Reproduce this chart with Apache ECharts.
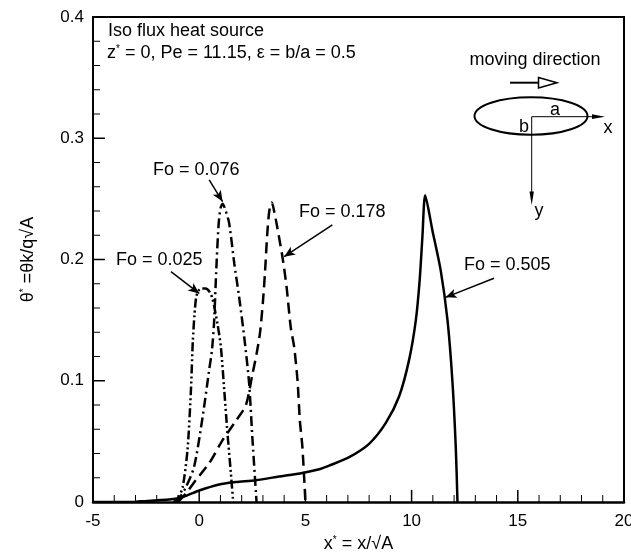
<!DOCTYPE html>
<html>
<head>
<meta charset="utf-8">
<script src="https://cdn.jsdelivr.net/npm/echarts@6/dist/echarts.min.js"></script>
<style>
html, body { margin: 0; padding: 0; background: #fff; }
#chart { width: 631px; height: 552px; }
</style>
</head>
<body>
<div id="chart"></div>
<script>
// curves: x* and theta*
var fo025X = [-1.2, -1.0, -0.78, -0.55, -0.39, -0.3, -0.22, -0.15, -0.05, 0.1, 0.3, 0.5, 0.62, 0.72, 0.86, 1.02, 1.18, 1.33, 1.49, 1.6];
var fo025Y = [0, 0.003, 0.012, 0.043, 0.092, 0.133, 0.155, 0.168, 0.174, 0.176, 0.176, 0.173, 0.168, 0.16, 0.147, 0.128, 0.092, 0.057, 0.024, 0];

var fo076X = [-1.1, -0.9, -0.63, -0.24, 0.16, 0.47, 0.6, 0.7, 0.8, 0.91, 1.0, 1.1, 1.25, 1.41, 1.65, 1.88, 2.12, 2.35, 2.51, 2.7];
var fo076Y = [0, 0.004, 0.012, 0.029, 0.07, 0.109, 0.125, 0.148, 0.19, 0.228, 0.242, 0.246, 0.24, 0.23, 0.197, 0.169, 0.136, 0.098, 0.051, 0];

var fo178X = [-1.0, -0.63, -0.16, 0.47, 1.1, 1.73, 2.2, 2.5, 2.7, 2.86, 3.0, 3.1, 3.2, 3.3, 3.42, 3.55, 3.64, 3.92, 4.11, 4.31, 4.47, 4.63, 4.74, 4.86, 5.0];
var fo178Y = [0, 0.007, 0.018, 0.032, 0.051, 0.067, 0.08, 0.105, 0.122, 0.139, 0.165, 0.19, 0.22, 0.24, 0.247, 0.238, 0.23, 0.202, 0.178, 0.144, 0.128, 0.1, 0.067, 0.045, 0];

var fo505X = [-5, -3.5, -3, -2.5, -2, -1.41, -0.78, 0, 0.94, 1.73, 2.67, 3.76, 4.86, 5.65, 6.12, 7.06, 8.0, 8.78, 9.41, 9.88, 10.2, 10.38, 10.51, 10.64, 10.98, 11.37, 11.69, 11.92, 12.08, 12.16];
var fo505Y = [0, 0, 0.0003, 0.0008, 0.0015, 0.002, 0.004, 0.0095, 0.0145, 0.0164, 0.018, 0.021, 0.024, 0.027, 0.03, 0.037, 0.048, 0.065, 0.087, 0.117, 0.15, 0.183, 0.219, 0.253, 0.224, 0.191, 0.15, 0.1, 0.045, 0];

// annotation arrows [from, to] in data units
var arrow025 = [[-1.33, 0.19], [0, 0.172]];
var arrow076 = [[0.47, 0.2657], [1.1, 0.2478]];
var arrow178 = [[6.27, 0.2285], [4.0, 0.2023]];
var arrow505 = [[13.88, 0.1845], [11.6, 0.1688]];

var xTicks = [-5, 0, 5, 10, 15, 20];
var yTicks = [0, 0.1, 0.2, 0.3, 0.4];
var xMinorStep = 1;
var yMinorStep = 0.02;

var FONT = '"Liberation Sans", Arial, sans-serif';

function pairs(xs, ys) {
    return xs.map(function (x, i) { return [x, ys[i]]; });
}

function arrowLine(a) {
    return {
        silent: true,
        symbol: ['none', 'arrow'],
        symbolSize: [7, 11],
        label: { show: false },
        lineStyle: { color: '#000', width: 1.5, type: 'solid' },
        data: [[{ coord: a[0] }, { coord: a[1] }]]
    };
}

function curve(name, xs, ys, dash, arrow) {
    return {
        name: name,
        type: 'line',
        data: pairs(xs, ys),
        showSymbol: false,
        smooth: 0.25,
        lineStyle: { color: '#000', width: 2.5, type: dash },
        markLine: arrowLine(arrow),
        z: 3
    };
}

function txt(x, y, text, extra) {
    var s = { text: text, x: x, y: y, fill: '#000', font: '18px ' + FONT, textVerticalAlign: 'middle' };
    if (extra) Object.assign(s, extra);
    return { type: 'text', style: s, z: 10 };
}

var sup = {
    b: { fontSize: 18, fontFamily: FONT, color: '#000' },
    s: { fontSize: 10, fontFamily: FONT, color: '#000', verticalAlign: 'top' }
};

// plain frame edges for top and right
function frameAxis(pos, min, max) {
    return {
        type: 'value', position: pos, min: min, max: max,
        axisLine: { show: true, onZero: false, lineStyle: { color: '#000', width: 2 } },
        axisTick: { show: false }, axisLabel: { show: false }, splitLine: { show: false }
    };
}

var baseGraphic = [
    txt(108, 31, 'Iso flux heat source'),
    {
        type: 'text', z: 10,
        style: {
            x: 107, y: 53, textVerticalAlign: 'middle',
            text: '{b|z}{s|*}{b| = 0, Pe = 11.15, ε = b/a = 0.5}',
            rich: sup
        }
    },
    txt(153, 170, 'Fo = 0.076'),
    txt(116, 260, 'Fo = 0.025'),
    txt(299, 212, 'Fo = 0.178'),
    txt(464, 265, 'Fo = 0.505'),
    // sketch of the moving elliptic source
    txt(535, 60, 'moving direction', { textAlign: 'center' }),
    { type: 'line', shape: { x1: 510, y1: 82.7, x2: 539, y2: 82.7 }, style: { stroke: '#000', lineWidth: 2 } },
    { type: 'polygon', shape: { points: [[538.5, 77.5], [557, 82.7], [538.5, 88]] }, style: { fill: '#fff', stroke: '#000', lineWidth: 1.5 } },
    { type: 'ellipse', shape: { cx: 531, cy: 116, rx: 56.5, ry: 18.8 }, style: { fill: 'none', stroke: '#000', lineWidth: 2 } },
    { type: 'line', shape: { x1: 531.7, y1: 116.7, x2: 594, y2: 116.7 }, style: { stroke: '#000', lineWidth: 1 } },
    { type: 'polygon', shape: { points: [[592, 114.3], [605, 116.7], [592, 119.1]] }, style: { fill: '#000' } },
    { type: 'line', shape: { x1: 531.7, y1: 116.7, x2: 531.7, y2: 193 }, style: { stroke: '#000', lineWidth: 1 } },
    { type: 'polygon', shape: { points: [[529.5, 191.5], [531.7, 205], [533.9, 191.5]] }, style: { fill: '#000' } },
    txt(555, 110, 'a', { textAlign: 'center' }),
    txt(524, 127, 'b', { textAlign: 'center' }),
    txt(608, 128, 'x', { textAlign: 'center' }),
    txt(539, 211, 'y', { textAlign: 'center' })
];

var myChart = echarts.init(document.getElementById('chart'));

var option = {
    animation: false,
    backgroundColor: '#fff',
    grid: { left: 93, right: 7, top: 17, bottom: 50, containLabel: false, outerBoundsMode: 'none' },
    xAxis: [{
        type: 'value', position: 'bottom',
        min: xTicks[0], max: xTicks[xTicks.length - 1], interval: 5,
        name: '{b|x}{s|*}{b| = x/√A}',
        nameLocation: 'middle', nameGap: 30,
        nameTextStyle: { rich: sup },
        axisLine: { show: true, onZero: false, lineStyle: { color: '#000', width: 2.5 } },
        axisTick: { show: false },
        splitLine: { show: false },
        axisLabel: { color: '#000', fontSize: 17, fontFamily: FONT, margin: 11 }
    }, frameAxis('top', xTicks[0], xTicks[xTicks.length - 1])],
    yAxis: [{
        type: 'value', position: 'left',
        min: yTicks[0], max: yTicks[yTicks.length - 1], interval: 0.1,
        name: '{b|θ}{s|*}{b| =θk/q√A}',
        nameLocation: 'middle', nameGap: 56,
        nameTextStyle: { rich: sup },
        axisLine: { show: true, onZero: false, lineStyle: { color: '#000', width: 2 } },
        axisTick: { show: false },
        splitLine: { show: false },
        axisLabel: {
            color: '#000', fontSize: 17, fontFamily: FONT, margin: 9,
            formatter: function (v) { return v === 0 ? '0' : v.toFixed(1); }
        }
    }, frameAxis('right', yTicks[0], yTicks[yTicks.length - 1])],
    series: [
        curve('Fo = 0.025', fo025X, fo025Y, [9, 3, 2, 3, 2, 3], arrow025),
        curve('Fo = 0.076', fo076X, fo076Y, [10, 4, 2, 4], arrow076),
        curve('Fo = 0.178', fo178X, fo178Y, [11, 6], arrow178),
        curve('Fo = 0.505', fo505X, fo505Y, 'solid', arrow505)
    ],
    graphic: baseGraphic
};

myChart.setOption(option);

// inward ticks, placed through the axes' own scale
var tickGraphic = [];
var x0 = xTicks[0], y0 = yTicks[0];
for (var i = 0; i <= 25; i++) {
    var xv = x0 + i * xMinorStep;
    var major = i % 5 === 0;
    var p = myChart.convertToPixel({ xAxisIndex: 0, yAxisIndex: 0 }, [xv, y0]);
    tickGraphic.push({
        type: 'line', z: 5, silent: true,
        shape: { x1: p[0], y1: p[1], x2: p[0], y2: p[1] - (major ? 12 : 7) },
        style: { stroke: '#000', lineWidth: major ? 1.5 : 1 }
    });
}
for (var j = 0; j <= 20; j++) {
    var yv = +(y0 + j * yMinorStep).toFixed(3);
    var majorY = j % 5 === 0;
    var q = myChart.convertToPixel({ xAxisIndex: 0, yAxisIndex: 0 }, [x0, yv]);
    tickGraphic.push({
        type: 'line', z: 5, silent: true,
        shape: { x1: q[0], y1: q[1], x2: q[0] + (majorY ? 12 : 7), y2: q[1] },
        style: { stroke: '#000', lineWidth: majorY ? 1.5 : 1 }
    });
}

myChart.setOption({ graphic: baseGraphic.concat(tickGraphic) });
</script>
</body>
</html>
